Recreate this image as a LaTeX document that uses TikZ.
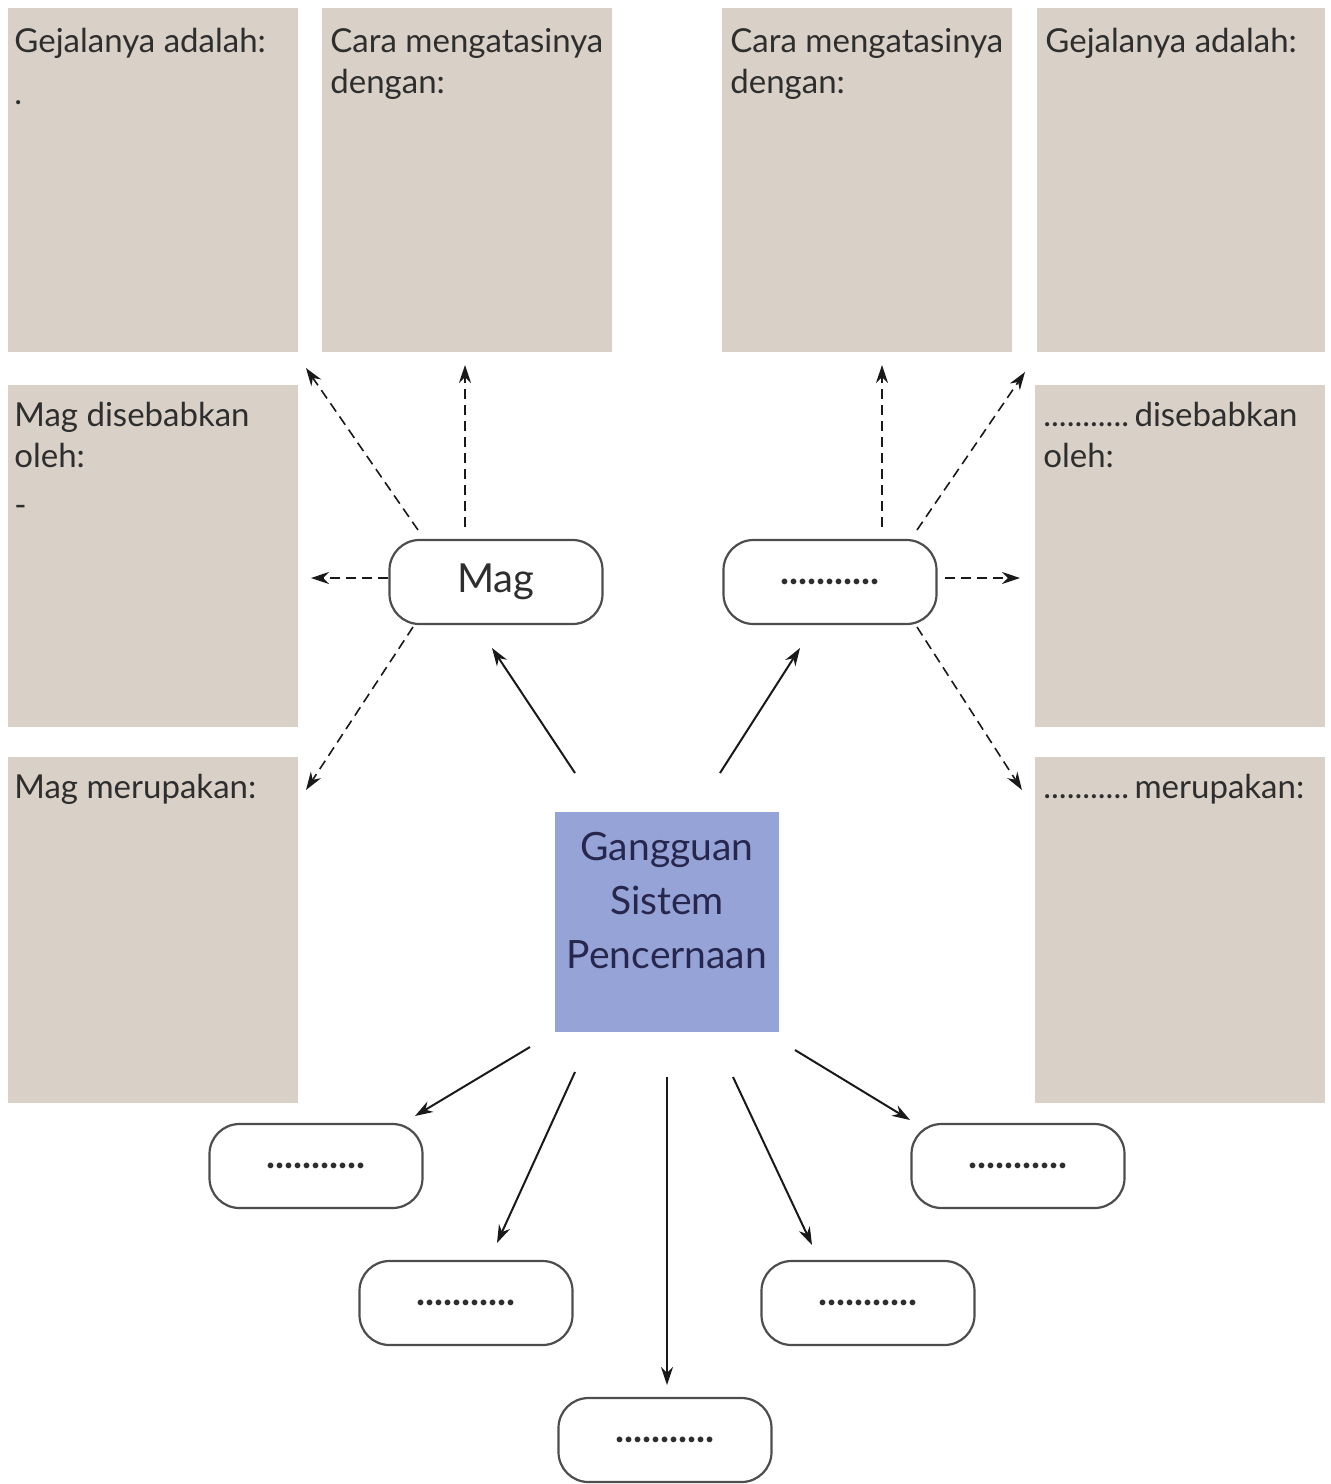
\documentclass[tikz,border=0pt]{standalone}
\usepackage{fontspec}
\setmainfont{Lato}
\usetikzlibrary{arrows.meta}
\definecolor{boxgray}{HTML}{D9D1C7}
\definecolor{boxblue}{HTML}{95A3D7}
\definecolor{txt}{HTML}{2E2E2E}
\tikzset{
  graybox/.style={fill=boxgray, draw=none, inner sep=0pt, anchor=north west,
    minimum width=145pt, minimum height=172pt},
  lab/.style={anchor=base west, inner sep=0pt, text=txt, font=\fontsize{16.5}{20.5}\selectfont, align=left},
  pill/.style={draw=txt!85, line width=1.1pt, rounded corners=15pt, fill=white,
    minimum width=106.5pt, minimum height=42pt, inner sep=0pt, text=txt,
    font=\fontsize{19}{20}\selectfont\bfseries},
  solidarr/.style={-{Stealth[length=9pt,width=6pt]}, line width=1pt, draw=black!90},
  dasharr/.style={-{Stealth[length=9pt,width=6pt]}, line width=0.8pt, dashed, dash pattern=on 5pt off 3pt, draw=black!90},
}
\begin{document}
\begin{tikzpicture}[x=0.5pt,y=-0.5pt]
\useasboundingbox (0,0) rectangle (1330,1484);
% gray boxes
\node[graybox] (gTL) at (8,8) {};
\node[graybox] (cTL) at (322,8) {};
\node[graybox] (cTR) at (722,8) {};
\node[graybox, minimum width=144pt] (gTR) at (1037,8) {};
\node[graybox, minimum height=171pt] (sL) at (8,385) {};
\node[graybox, minimum height=171pt] (sR) at (1035,385) {};
\node[graybox, minimum height=173pt] (mL) at (8,757) {};
\node[graybox, minimum height=173pt] (mR) at (1035,757) {};
% labels (base = baseline of the last line)
\node[lab] (tgTL) at (14,52) {Gejalanya adalah:};
\node[lab] (tcTL) at (330,93) {Cara mengatasinya\\dengan:};
\node[lab] (tcTR) at (730,93) {Cara mengatasinya\\dengan:};
\node[lab] (tgTR) at (1045,52) {Gejalanya adalah:};
\node[lab] (tsL) at (14,467) {Mag disebabkan\\oleh:};
\node[lab] (tsR) at (1043,467) {...........\,disebabkan\\oleh:};
\node[lab] (tmL) at (14,798) {Mag merupakan:};
\node[lab] (tmR) at (1043,798) {...........\,merupakan:};
\node[lab] (dotA) at (14,104) {.};
\node[lab] (dotB) at (14,516) {-};
% center box
\node[fill=boxblue, minimum width=112pt, minimum height=110pt, inner sep=0pt] (ctr) at (667,922) {};
\node[text=txt!85!blue, align=center, inner sep=0pt, font=\fontsize{19.5}{27}\selectfont]
  (ctrtext) at ([yshift=10.5pt]ctr.center) {Gangguan\\Sistem\\Pencernaan};
% pills
\node[pill, font=\fontsize{20}{24}\selectfont] (mag) at (496,582) {Mag};
\node[pill] (pR) at (830,582) {...........};
\node[pill] (b1) at (316,1166) {...........};
\node[pill] (b2) at (466,1303) {...........};
\node[pill] (b3) at (665,1440) {...........};
\node[pill] (b4) at (868,1303) {...........};
\node[pill] (b5) at (1018,1166) {...........};
% connector coordinates
\coordinate (s1) at (575,773); \coordinate (e1) at (492,648);
\coordinate (s2) at (720,773); \coordinate (e2) at (800,648);
\coordinate (s3) at (530,1047); \coordinate (e3) at (415,1116);
\coordinate (s4) at (575,1072); \coordinate (e4) at (497,1243);
\coordinate (s5) at (667,1077); \coordinate (e5) at (667,1385);
\coordinate (s6) at (733,1077); \coordinate (e6) at (812,1245);
\coordinate (s7) at (795,1050); \coordinate (e7) at (910,1120);
\draw[solidarr] (s1) -- (e1);
\draw[solidarr] (s2) -- (e2);
\draw[solidarr] (s3) -- (e3);
\draw[solidarr] (s4) -- (e4);
\draw[solidarr] (s5) -- (e5);
\draw[solidarr] (s6) -- (e6);
\draw[solidarr] (s7) -- (e7);
% dashed
\coordinate (m1) at (418,530); \coordinate (n1) at (306,368);
\coordinate (m2) at (465,527); \coordinate (n2) at (465,365);
\coordinate (m3) at (388,578); \coordinate (n3) at (311,578);
\coordinate (m4) at (413,627); \coordinate (n4) at (306,790);
\coordinate (r1) at (917,530); \coordinate (q1) at (1025,372);
\coordinate (r2) at (882,527); \coordinate (q2) at (882,365);
\coordinate (r3) at (945,578); \coordinate (q3) at (1020,578);
\coordinate (r4) at (917,627); \coordinate (q4) at (1022,790);
\foreach \a/\b in {m1/n1,m2/n2,m3/n3,m4/n4,r1/q1,r2/q2,r3/q3,r4/q4}
  \draw[dasharr] (\a) -- (\b);
\end{tikzpicture}
\end{document}
